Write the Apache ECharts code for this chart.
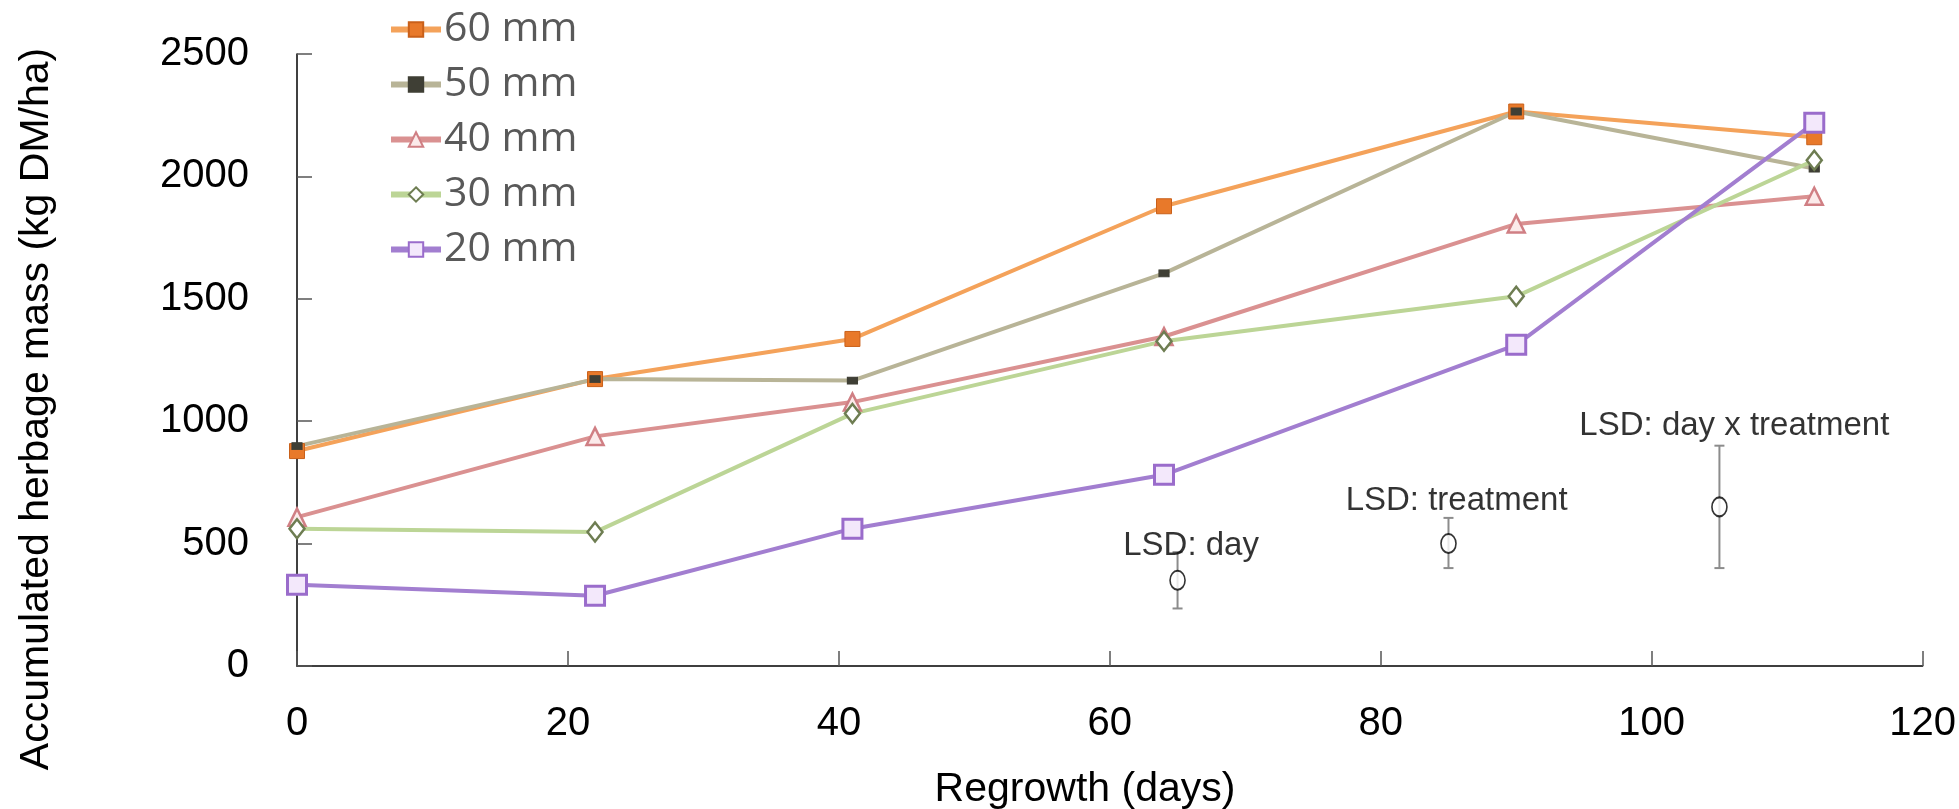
<!DOCTYPE html>
<html>
<head>
<meta charset="utf-8">
<script src="https://cdn.jsdelivr.net/npm/echarts@6/dist/echarts.min.js"></script>
<style>
html,body{margin:0;padding:0;background:#fff;}
#chart{width:1959px;height:809px;}
</style>
</head>
<body>
<div id="chart"></div>
<script>
// ---- data ----
const days = [0, 22, 41, 64, 90, 112];
const mm60 = [878, 1172, 1336, 1878, 2265, 2160];
const mm50 = [898, 1172, 1166, 1604, 2265, 2032];
const mm40 = [608, 938, 1078, 1346, 1806, 1919];
const mm30 = [561, 547, 1031, 1327, 1510, 2066];
const mm20 = [332, 287, 561, 781, 1312, 2219];
const seriesNames = ['60 mm', '50 mm', '40 mm', '30 mm', '20 mm'];

const lsdNames = ['LSD: day', 'LSD: treatment', 'LSD: day x treatment'];
const lsdX = [65, 85, 105];
const lsdMean = [350, 500, 650];
const lsdLow = [235, 400, 400];
const lsdHigh = [465, 605, 900];
const lsdLabelX = [66, 85.6, 106.1];
const lsdLabelY = [491, 675, 982];

const xTicks = [0, 20, 40, 60, 80, 100, 120];
const yTicks = [0, 500, 1000, 1500, 2000, 2500];

// ---- chart ----
const chart = echarts.init(document.getElementById('chart'), null, {renderer: 'canvas'});
const FONT = "'Liberation Sans', Arial, sans-serif";

function pairs(vals) { return days.map((d, i) => [d, vals[i]]); }

const styles = [
  {line: '#F4A25A', symbol: 'rect', size: 15, fill: '#E8792A', border: '#C9601A', bw: 1},
  {line: '#B8B497', symbol: 'rect', size: [10, 7], fill: '#3F3F35', border: '#3F3F35', bw: 1},
  {line: '#DA9191', symbol: 'triangle', size: 17, fill: '#FBEAEA', border: '#D07F84', bw: 2.5},
  {line: '#BCD596', symbol: 'diamond', size: [15, 19], fill: '#FFFFFF', border: '#6E7D52', bw: 2.5},
  {line: '#A27ED0', symbol: 'rect', size: 19, fill: '#F3E8FB', border: '#9A6CCB', bw: 3}
];
const valueSets = [mm60, mm50, mm40, mm30, mm20];

const lineSeries = seriesNames.map((name, k) => ({
  name: name,
  type: 'line',
  data: pairs(valueSets[k]),
  symbol: styles[k].symbol,
  symbolSize: styles[k].size,
  showAllSymbol: true,
  lineStyle: {color: styles[k].line, width: 4},
  itemStyle: {color: styles[k].fill, borderColor: styles[k].border, borderWidth: styles[k].bw},
  emphasis: {disabled: true},
  z: 2 + (k === 4 ? 3 : 0),
  animation: false
}));

const errSeries = {
  type: 'custom',
  name: 'lsd-bars',
  data: lsdX.map((x, i) => [x, lsdLow[i], lsdHigh[i]]),
  renderItem: function (params, api) {
    const x = api.value(0);
    const lo = api.coord([x, api.value(1)]);
    const hi = api.coord([x, api.value(2)]);
    const cap = 5;
    const st = {stroke: '#8C8C8C', lineWidth: 2};
    return {
      type: 'group',
      children: [
        {type: 'line', shape: {x1: lo[0], y1: lo[1], x2: hi[0], y2: hi[1]}, style: st},
        {type: 'line', shape: {x1: lo[0] - cap, y1: lo[1], x2: lo[0] + cap, y2: lo[1]}, style: st},
        {type: 'line', shape: {x1: hi[0] - cap, y1: hi[1], x2: hi[0] + cap, y2: hi[1]}, style: st}
      ]
    };
  },
  z: 3,
  animation: false
};

const meanSeries = {
  type: 'scatter',
  name: 'lsd-mean',
  data: lsdX.map((x, i) => [x, lsdMean[i]]),
  symbol: 'circle',
  symbolSize: [15, 19],
  itemStyle: {color: '#FFFFFF', borderColor: '#000000', borderWidth: 1.8},
  emphasis: {disabled: true},
  z: 4,
  animation: false
};

const labelSeries = {
  type: 'scatter',
  name: 'lsd-labels',
  data: lsdLabelX.map((x, i) => ({value: [x, lsdLabelY[i]], name: lsdNames[i]})),
  symbolSize: 0,
  label: {
    show: true,
    position: 'inside',
    formatter: p => p.name,
    fontFamily: FONT,
    fontSize: 33,
    color: '#000'
  },
  emphasis: {disabled: true},
  z: 5,
  animation: false
};

chart.setOption({
  animation: false,
  backgroundColor: '#ffffff',
  grid: {left: 297, right: 35, top: 54, bottom: 143, containLabel: false},
  legend: {
    data: seriesNames,
    orient: 'vertical',
    left: 388,
    top: 9,
    padding: 0,
    itemWidth: 50,
    itemHeight: 18,
    itemGap: 14,
    lineStyle: {width: 6},
    textStyle: {fontSize: 41, lineHeight: 41, color: '#595959', fontFamily: "'Open Sans', sans-serif", padding: [0, 0, 0, -2]}
  },
  xAxis: {
    type: 'value',
    min: 0, max: 120, interval: 20,
    axisLine: {show: true, lineStyle: {color: '#000', width: 1.5}},
    axisTick: {show: true, inside: true, length: 15, lineStyle: {color: '#555', width: 1.5}},
    splitLine: {show: false},
    axisLabel: {
      margin: 38,
      fontSize: 40,
      fontFamily: FONT,
      color: '#000',
      formatter: v => (xTicks.indexOf(v) >= 0 ? String(v) : '')
    }
  },
  yAxis: {
    type: 'value',
    min: 0, max: 2500, interval: 500,
    axisLine: {show: true, lineStyle: {color: '#000', width: 1.5}},
    axisTick: {show: true, inside: true, length: 15, lineStyle: {color: '#555', width: 1.5}},
    splitLine: {show: false},
    axisLabel: {
      margin: 48,
      fontSize: 40,
      fontFamily: FONT,
      color: '#000',
      formatter: v => (yTicks.indexOf(v) >= 0 ? String(v) : '')
    }
  },
  graphic: [
    {
      type: 'text',
      x: 37, y: 409,
      rotation: Math.PI / 2,
      style: {
        text: 'Accumulated herbage mass (kg DM/ha)',
        font: "41px 'Liberation Sans', Arial, sans-serif",
        fill: '#000',
        textAlign: 'center',
        textVerticalAlign: 'middle'
      }
    },
    {
      type: 'text',
      x: 1085, y: 790,
      style: {
        text: 'Regrowth (days)',
        font: "41px 'Liberation Sans', Arial, sans-serif",
        fill: '#000',
        textAlign: 'center',
        textVerticalAlign: 'middle'
      }
    }
  ],
  series: lineSeries.concat([errSeries, meanSeries, labelSeries])
});
</script>
</body>
</html>
